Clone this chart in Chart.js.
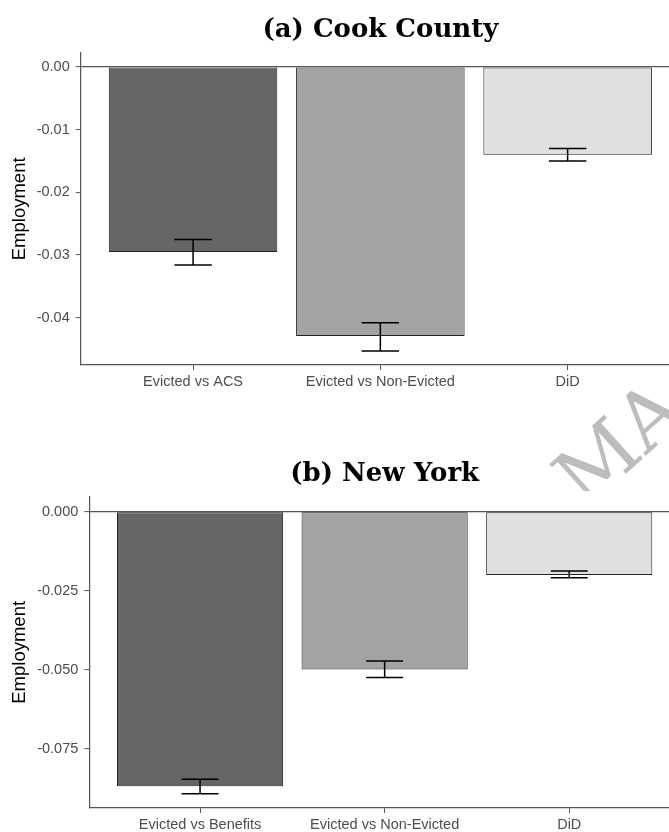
<!DOCTYPE html>
<html>
<head>
<meta charset="utf-8">
<script src="https://cdn.jsdelivr.net/npm/chart.js@4.4.0/dist/chart.umd.min.js"></script>
<style>
  html, body { margin: 0; padding: 0; background: #fff; }
  body { width: 669px; height: 832px; overflow: hidden; position: relative; }
  .panel { position: absolute; left: 0; width: 680px; }
  #panelA { top: 0; height: 400px; }
  #panelB { top: 444px; height: 388px; }
  #stampClip { position: absolute; left: 0; top: 0; width: 669px; height: 491px; overflow: hidden; }
  #stamp {
    position: absolute; left: 594px; top: 440px; height: 80px; line-height: 1;
    font-family: 'DejaVu Serif', serif; font-size: 80px; color: #bdbdbd;
    transform: rotate(-42deg); transform-origin: left bottom; white-space: nowrap;
  }
</style>
</head>
<body>
<div id="stampClip"><div id="stamp">MA</div></div>
<div class="panel" id="panelA"><canvas id="chartA"></canvas></div>
<div class="panel" id="panelB"><canvas id="chartB"></canvas></div>
<script>
// panel (a) Cook County
const categoriesA = ['Evicted vs ACS', 'Evicted vs Non-Evicted', 'DiD'];
const estimatesA = [-0.0295, -0.0429, -0.0140];
const lowerA = [-0.0316, -0.0453, -0.0150];
const upperA = [-0.0275, -0.0408, -0.0130];
const ticksA = [0, -0.01, -0.02, -0.03, -0.04];

// panel (b) New York
const categoriesB = ['Evicted vs Benefits', 'Evicted vs Non-Evicted', 'DiD'];
const estimatesB = [-0.0867, -0.0499, -0.0200];
const lowerB = [-0.0891, -0.0524, -0.0209];
const upperB = [-0.0845, -0.0472, -0.0188];
const ticksB = [0, -0.025, -0.05, -0.075];

const barColors = ['#666666', '#a3a3a3', '#e0e0e0'];

// whiskers with caps, 0.2 category units wide
const errorBars = {
    id: 'errorBars',
    afterDatasetsDraw(chart, args, opts) {
        const ctx = chart.ctx;
        const x = chart.scales.x, y = chart.scales.y;
        ctx.save();
        ctx.strokeStyle = '#000';
        ctx.lineWidth = 1.5;
        opts.lower.forEach((lo, i) => {
            const cx = x.getPixelForValue(i + 1);
            const half = x.getPixelForValue(i + 1.1) - cx;
            const yLo = y.getPixelForValue(lo);
            const yHi = y.getPixelForValue(opts.upper[i]);
            ctx.beginPath();
            ctx.moveTo(cx, yLo); ctx.lineTo(cx, yHi);
            ctx.moveTo(cx - half, yLo); ctx.lineTo(cx + half, yLo);
            ctx.moveTo(cx - half, yHi); ctx.lineTo(cx + half, yHi);
            ctx.stroke();
        });
        ctx.restore();
    }
};

function makePanel(id, title, cats, est, lo, hi, ticks, yMin, yMax, decimals, yWidth, xHeight) {
    return new Chart(document.getElementById(id), {
        type: 'bar',
        data: {
            datasets: [{
                data: est.map((v, i) => ({ x: i + 1, y: v })),
                backgroundColor: barColors,
                borderColor: '#222',
                borderWidth: 1,
                borderSkipped: false,
                barPercentage: 0.9,
                categoryPercentage: 1.0
            }]
        },
        options: {
            responsive: true,
            maintainAspectRatio: false,
            animation: false,
            layout: { padding: { top: 5, right: 0, bottom: 0, left: 0 } },
            plugins: {
                legend: { display: false },
                tooltip: { enabled: false },
                title: {
                    display: true,
                    text: title,
                    fullSize: false,
                    color: '#000',
                    font: { family: 'DejaVu Serif', weight: 'bold', size: 26 },
                    padding: { top: 10, bottom: 6.5 }
                },
                errorBars: { lower: lo, upper: hi }
            },
            scales: {
                x: {
                    type: 'linear',
                    min: 0.4,
                    max: 3.6,
                    offset: false,
                    afterBuildTicks: s => { s.ticks = cats.map((c, i) => ({ value: i + 1 })); },
                    ticks: {
                        callback: v => cats[v - 1],
                        color: '#4d4d4d',
                        font: { family: 'Liberation Sans', size: 14.5 },
                        padding: 3,
                        autoSkip: false,
                        maxRotation: 0
                    },
                    grid: { offset: false, drawOnChartArea: false, tickLength: 5, tickColor: '#555', tickWidth: 1 },
                    border: { color: '#555', width: 1.2 },
                    afterFit: s => { s.height = xHeight; }
                },
                y: {
                    min: yMin,
                    max: yMax,
                    afterBuildTicks: s => { s.ticks = ticks.map(v => ({ value: v })); },
                    ticks: {
                        callback: v => v.toFixed(decimals),
                        color: '#4d4d4d',
                        font: { family: 'Liberation Sans', size: 14.5 },
                        padding: 6
                    },
                    grid: {
                        color: c => (c.tick && c.tick.value === 0) ? '#555' : 'rgba(0,0,0,0)',
                        lineWidth: 1.2,
                        tickLength: 5,
                        tickColor: '#555',
                        tickWidth: 1
                    },
                    border: { color: '#555', width: 1.2 },
                    title: {
                        display: true,
                        text: 'Employment',
                        color: '#000',
                        font: { family: 'Liberation Sans', size: 18.5 },
                        padding: { top: 9, bottom: 0 }
                    },
                    afterFit: s => { s.width = yWidth; }
                }
            }
        },
        plugins: [errorBars]
    });
}

makePanel('chartA', '(a) Cook County', categoriesA, estimatesA, lowerA, upperA, ticksA,
    -0.04753, 0.00227, 2, 80.7, 35);
makePanel('chartB', '(b) New York', categoriesB, estimatesB, lowerB, upperB, ticksB,
    -0.0936, 0.0047, 3, 89.3, 24);
</script>
</body>
</html>
